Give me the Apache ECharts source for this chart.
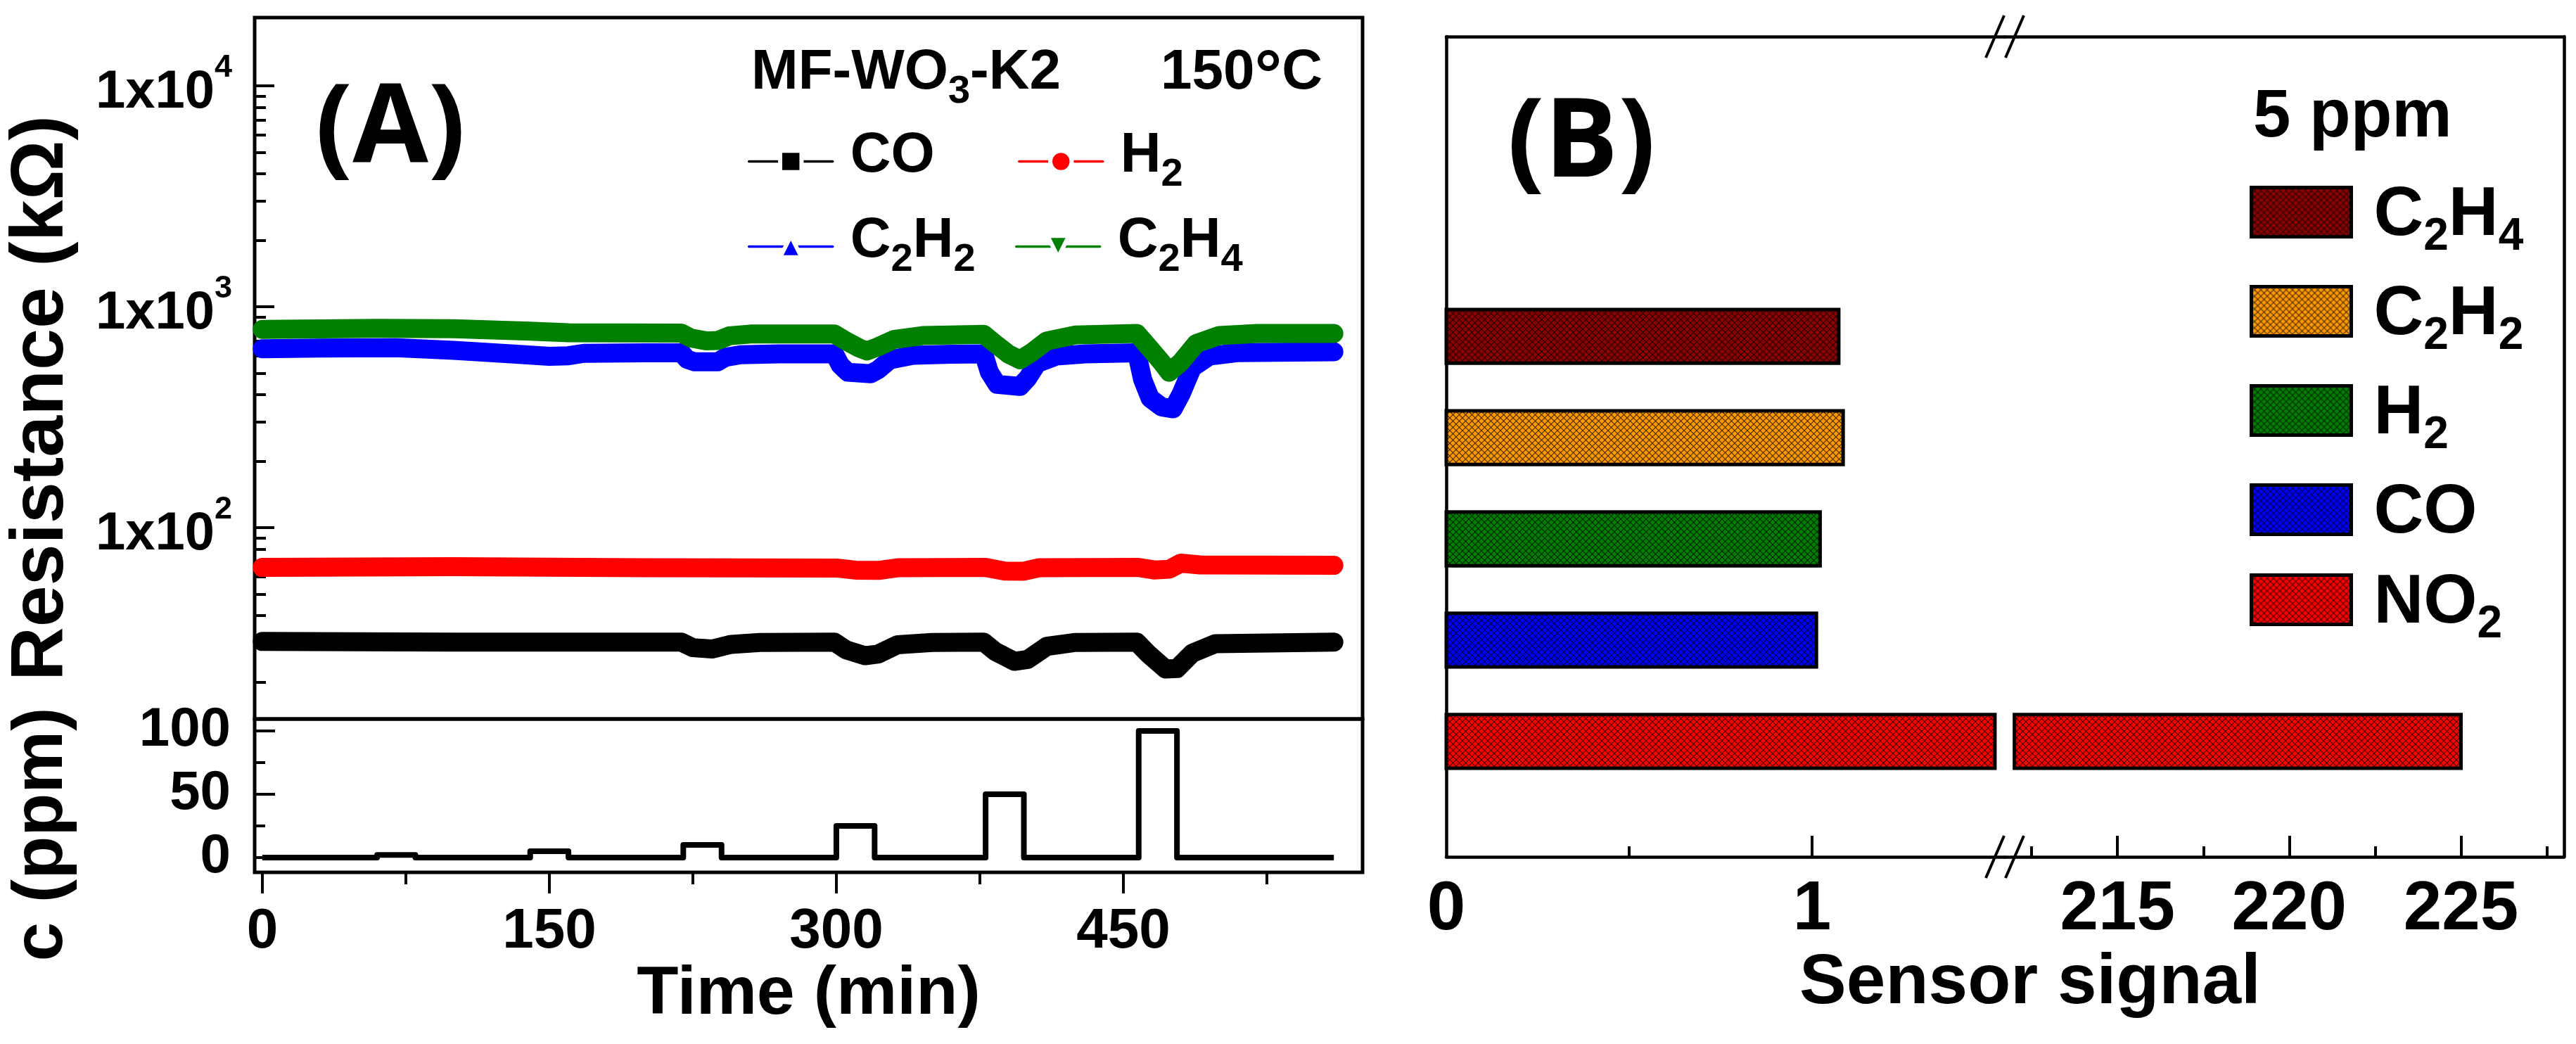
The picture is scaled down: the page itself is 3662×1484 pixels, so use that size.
<!DOCTYPE html>
<html>
<head>
<meta charset="utf-8">
<title>MF-WO3-K2 gas response</title>
<script src="https://cdn.jsdelivr.net/npm/echarts@6/dist/echarts.min.js"></script>
<style>
  html, body { margin: 0; padding: 0; background: #fff; }
  #chart { width: 3662px; height: 1484px; }
</style>
</head>
<body>
<div id="chart"></div>
<script>
// ---------- panel A : resistance (kOhm) vs time (min) ----------
const coTime = [0, 100, 219, 225, 235, 245, 260, 299, 305, 315, 322, 332, 350, 377, 383, 393, 400, 410, 425, 457, 463, 472, 478, 486, 498, 560];
const coRes = [30.5, 30.3, 30.3, 28.6, 28.2, 29.6, 30.2, 30.3, 28.0, 26.3, 26.8, 29.5, 30.2, 30.3, 27.5, 24.8, 25.3, 29.0, 30.2, 30.3, 26.8, 22.9, 23.0, 27.0, 29.8, 30.3];

const h2Time = [0, 100, 200, 300, 310, 322, 332, 378, 388, 398, 406, 458, 466, 474, 480, 490, 560];
const h2Res = [66.0, 66.5, 65.8, 65.6, 64.2, 64.0, 65.8, 66.0, 63.6, 63.5, 65.8, 66.0, 64.3, 64.8, 69.0, 67.8, 67.5];

const c2h2Time = [0, 30, 70, 100, 130, 150, 160, 168, 200, 219, 222, 226, 238, 242, 250, 270, 299, 302, 306, 318, 322, 328, 340, 360, 377, 380, 384, 396, 400, 405, 415, 430, 457, 460, 464, 470, 476, 480, 486, 495, 510, 560];
const c2h2Res = [645, 650, 652, 635, 612, 596, 600, 615, 618, 618, 578, 563, 563, 590, 606, 612, 612, 545, 505, 497, 520, 575, 603, 610, 612, 505, 445, 436, 475, 555, 598, 612, 618, 470, 385, 352, 345, 400, 530, 598, 620, 625];

const c2h4Time = [0, 60, 100, 140, 160, 219, 224, 232, 238, 244, 255, 299, 305, 312, 316, 322, 330, 345, 377, 383, 390, 396, 402, 410, 425, 457, 463, 470, 474, 480, 488, 500, 520, 560];
const c2h4Res = [790, 798, 795, 775, 762, 760, 722, 700, 703, 738, 752, 752, 700, 650, 630, 660, 710, 740, 750, 680, 610, 575, 620, 700, 745, 757, 660, 560, 505, 560, 680, 740, 757, 757];

// gas concentration steps (ppm)
const cTime = [0, 60, 60, 80, 80, 140, 140, 160, 160, 220, 220, 240, 240, 300, 300, 320, 320, 378, 378, 398, 398, 458, 458, 478, 478, 560];
const cPpm = [0, 0, 2, 2, 0, 0, 5, 5, 0, 0, 10, 10, 0, 0, 25, 25, 0, 0, 50, 50, 0, 0, 100, 100, 0, 0];

const timeTicks = [0, 150, 300, 450];
const timeMinorTicks = [75, 225, 375, 525];
const resTicks = [100, 1000, 10000];
const resMinorTicks = [20, 30, 40, 50, 60, 70, 80, 90, 200, 300, 400, 500, 600, 700, 800, 900, 2000, 3000, 4000, 5000, 6000, 7000, 8000, 9000];
const ppmTicks = [0, 50, 100];
const ppmMinorTicks = [25, 75];

// ---------- panel B : sensor signal at 5 ppm ----------
const gasB = ['NO2', 'CO', 'H2', 'C2H2', 'C2H4'];
const signalB = [225, 1.012, 1.022, 1.085, 1.073];
const legendOrderB = ['C2H4', 'C2H2', 'H2', 'CO', 'NO2'];
const signalTicksLow = [0, 1];
const signalMinorLow = [0.5];
const signalTicksHigh = [215, 220, 225];
const signalMinorHigh = [212.5, 217.5, 222.5, 227.5];

const FONT = "'Liberation Sans', Arial, sans-serif";
const gasColorB = { NO2: '#ff0000', CO: '#0000ff', H2: '#008000', C2H2: '#ff9900', C2H4: '#8b0000' };

// broken axis of panel B
const LOW_MAX = 1.527, BREAK_END = 1.5;
const HIGH_MIN = 211.72, HIGH_MAX = 228, BREAK_RESUME = 212;
const SLOT_MIN = -0.14, SLOT_MAX = 7.96, BAR_H = 0.53;

const pairs = (xs, ys) => xs.map((x, i) => [x, ys[i]]);

// letters normal, digits dropped as subscripts, plus an invisible strut so every label has the same height
function chemRich(name) {
    return name.replace(/([A-Za-z]+)/g, '{m|$1}').replace(/(\d+)/g, '{s|$1}') + '{z| }';
}

function hatch(color) {
    const n = 9;
    const c = document.createElement('canvas');
    c.width = n; c.height = n;
    const g = c.getContext('2d');
    g.fillStyle = color;
    g.fillRect(0, 0, n, n);
    g.strokeStyle = 'rgba(0,0,0,0.75)';
    g.lineWidth = 1.1;
    g.beginPath();
    g.moveTo(0, 0); g.lineTo(n, n);
    g.moveTo(n, 0); g.lineTo(0, n);
    g.stroke();
    return { image: c, repeat: 'repeat' };
}
const hatchB = {};
gasB.forEach(g => { hatchB[g] = hatch(gasColorB[g]); });

const bold = { fontWeight: 'bold', fontFamily: FONT, color: '#000' };
const richA = {
    m: Object.assign({ fontSize: 80, lineHeight: 80, verticalAlign: 'top' }, bold),
    s: Object.assign({ fontSize: 56, verticalAlign: 'top', padding: [39, 0, 0, 0] }, bold),
    d: Object.assign({ fontSize: 97, lineHeight: 95, verticalAlign: 'top' }, bold),
    z: Object.assign({ fontSize: 1, lineHeight: 95, verticalAlign: 'top' }, bold)
};
const richB = {
    m: Object.assign({ fontSize: 98, lineHeight: 98, verticalAlign: 'top' }, bold),
    s: Object.assign({ fontSize: 64, verticalAlign: 'top', padding: [47, 0, 0, 0] }, bold),
    z: Object.assign({ fontSize: 1, lineHeight: 111, verticalAlign: 'top' }, bold)
};

function resSeries(name, t, r, color, symbol) {
    return {
        name, type: 'line', xAxisIndex: 0, yAxisIndex: 0,
        data: pairs(t, r), showSymbol: false, symbol, symbolSize: 22,
        lineStyle: { color, width: 27, join: 'round', cap: 'round' },
        itemStyle: { color }, silent: true
    };
}

function legendA(name, left, top) {
    return {
        data: [name], left, top, padding: 0,
        itemWidth: 119, itemHeight: 38, selectedMode: false,
        lineStyle: { width: 3.5 },
        itemStyle: { borderColor: '#fff', borderWidth: 6 },
        formatter: chemRich,
        textStyle: { padding: [0, 0, 0, 20], rich: richA }
    };
}

function barPiece(lo, hi, fill) {
    return function (params, api) {
        const v = api.value(0), slot = api.value(1);
        const x1 = Math.min(v, hi);
        if (x1 <= lo) return null;
        const p0 = api.coord([lo, slot]);
        const p1 = api.coord([x1, slot]);
        const h = api.size([0, BAR_H])[1];
        return {
            type: 'rect',
            shape: { x: p0[0], y: p0[1] - h / 2, width: p1[0] - p0[0], height: h },
            style: { fill, stroke: '#000', lineWidth: 5 }
        };
    };
}

const barSeries = [];
gasB.forEach((g, i) => {
    const data = [[signalB[i], i + 1]];
    barSeries.push({ name: 'B-' + g, type: 'custom', xAxisIndex: 3, yAxisIndex: 4, data,
        itemStyle: { color: hatchB[g] }, renderItem: barPiece(0, BREAK_END, hatchB[g]), silent: true });
    barSeries.push({ name: 'B-' + g, type: 'custom', xAxisIndex: 6, yAxisIndex: 5, data,
        itemStyle: { color: hatchB[g] }, renderItem: barPiece(BREAK_RESUME, Infinity, hatchB[g]), silent: true });
});

const lineBlack = { show: true, onZero: false, lineStyle: { color: '#000', width: 4.5 } };
const noLine = { show: false, onZero: false };
const tickFont = (size) => Object.assign({ fontSize: size }, bold);
const offAxis = { axisLine: noLine, axisTick: { show: false }, axisLabel: { show: false }, splitLine: { show: false } };

const option = {
    animation: false,
    backgroundColor: '#fff',
    grid: [
        { left: 362, top: 25, width: 1575, height: 997, show: true, borderColor: '#000', borderWidth: 5, backgroundColor: 'transparent' },
        { left: 362, top: 1022, width: 1575, height: 218, show: true, borderColor: '#000', borderWidth: 5, backgroundColor: 'transparent' },
        { left: 2056, top: 52, width: 794, height: 1166 },
        { left: 2850, top: 52, width: 795, height: 1166 }
    ],
    xAxis: [
        { gridIndex: 0, type: 'value', min: -4, max: 575, position: 'bottom', show: false },
        { gridIndex: 1, type: 'value', min: -4, max: 575, position: 'bottom', axisLine: noLine,
          axisTick: { customValues: timeTicks, length: 30, lineStyle: { color: '#000', width: 4 } },
          axisLabel: Object.assign({ customValues: timeTicks, margin: 45 }, tickFont(80)),
          splitLine: { show: false },
          name: 'Time (min)', nameLocation: 'middle', nameGap: 122,
          nameTextStyle: tickFont(97) },
        { gridIndex: 1, type: 'value', min: -4, max: 575, position: 'bottom', axisLine: noLine,
          axisTick: { customValues: timeMinorTicks, length: 17, lineStyle: { color: '#000', width: 4 } },
          axisLabel: { show: false }, splitLine: { show: false } },
        // panel B, low segment
        { gridIndex: 2, type: 'value', min: 0, max: LOW_MAX, position: 'bottom', axisLine: lineBlack,
          axisTick: { customValues: [1], inside: true, length: 30, lineStyle: { color: '#000', width: 4 } },
          axisLabel: Object.assign({ customValues: signalTicksLow, margin: 27 }, tickFont(98)),
          splitLine: { show: false } },
        { gridIndex: 2, type: 'value', min: 0, max: LOW_MAX, position: 'bottom', axisLine: noLine,
          axisTick: { customValues: signalMinorLow, inside: true, length: 15, lineStyle: { color: '#000', width: 4 } },
          axisLabel: { show: false }, splitLine: { show: false } },
        Object.assign({ gridIndex: 2, type: 'value', min: 0, max: LOW_MAX, position: 'top' }, offAxis, { axisLine: lineBlack }),
        // panel B, high segment
        { gridIndex: 3, type: 'value', min: HIGH_MIN, max: HIGH_MAX, position: 'bottom', axisLine: lineBlack,
          axisTick: { customValues: signalTicksHigh, inside: true, length: 30, lineStyle: { color: '#000', width: 4 } },
          axisLabel: Object.assign({ customValues: signalTicksHigh, margin: 27 }, tickFont(98)),
          splitLine: { show: false } },
        { gridIndex: 3, type: 'value', min: HIGH_MIN, max: HIGH_MAX, position: 'bottom', axisLine: noLine,
          axisTick: { customValues: signalMinorHigh, inside: true, length: 15, lineStyle: { color: '#000', width: 4 } },
          axisLabel: { show: false }, splitLine: { show: false } },
        Object.assign({ gridIndex: 3, type: 'value', min: HIGH_MIN, max: HIGH_MAX, position: 'top' }, offAxis, { axisLine: lineBlack })
    ],
    yAxis: [
        { gridIndex: 0, type: 'log', logBase: 10, min: 13.6, max: 20370, position: 'left', axisLine: noLine,
          axisTick: { customValues: resTicks, inside: true, length: 28, lineStyle: { color: '#000', width: 4 } },
          axisLabel: {
              customValues: resTicks, margin: 32,
              formatter: v => '{b|1x10}{sup|' + Math.round(Math.log10(v)) + '}',
              rich: {
                  b: Object.assign({ fontSize: 76, lineHeight: 96, verticalAlign: 'bottom' }, bold),
                  sup: Object.assign({ fontSize: 45, lineHeight: 45, verticalAlign: 'top' }, bold)
              }
          },
          splitLine: { show: false } },
        { gridIndex: 0, type: 'log', logBase: 10, min: 13.6, max: 20370, position: 'left', axisLine: noLine,
          axisTick: { customValues: resMinorTicks, inside: true, length: 16, lineStyle: { color: '#000', width: 4 } },
          axisLabel: { show: false }, splitLine: { show: false } },
        { gridIndex: 1, type: 'value', min: -11.7, max: 109.4, position: 'left', axisLine: noLine,
          axisTick: { customValues: ppmTicks, inside: true, length: 29, lineStyle: { color: '#000', width: 4 } },
          axisLabel: Object.assign({ customValues: ppmTicks, margin: 34 }, tickFont(78)),
          splitLine: { show: false } },
        { gridIndex: 1, type: 'value', min: -11.7, max: 109.4, position: 'left', axisLine: noLine,
          axisTick: { customValues: ppmMinorTicks, inside: true, length: 15, lineStyle: { color: '#000', width: 4 } },
          axisLabel: { show: false }, splitLine: { show: false } },
        Object.assign({ gridIndex: 2, type: 'value', min: SLOT_MIN, max: SLOT_MAX, position: 'left' }, offAxis, { axisLine: lineBlack }),
        Object.assign({ gridIndex: 3, type: 'value', min: SLOT_MIN, max: SLOT_MAX, position: 'right' }, offAxis, { axisLine: lineBlack })
    ],
    legend: [
        legendA('CO', 1063, 182),
        legendA('H2', 1447, 182),
        legendA('C2H2', 1063, 303),
        legendA('C2H4', 1443, 303),
        { data: legendOrderB.map(g => ({ name: 'B-' + g, icon: 'rect',
              itemStyle: { color: hatchB[g], borderColor: '#000', borderWidth: 5 } })),
          left: 3198, top: 258, orient: 'vertical', padding: 0,
          itemWidth: 142, itemHeight: 70, itemGap: 30, selectedMode: false,
          formatter: name => chemRich(name.slice(2)),
          textStyle: { padding: [24, 0, 0, 27], rich: richB } }
    ],
    series: [
        resSeries('CO', coTime, coRes, '#000000', 'rect'),
        resSeries('H2', h2Time, h2Res, '#ff0000', 'circle'),
        resSeries('C2H2', c2h2Time, c2h2Res, '#0000ff', 'triangle'),
        resSeries('C2H4', c2h4Time, c2h4Res, '#008000', 'path://M0,0L10,0L5,9Z'),
        { name: 'conc', type: 'line', xAxisIndex: 1, yAxisIndex: 2, data: pairs(cTime, cPpm),
          showSymbol: false, symbol: 'none', silent: true,
          lineStyle: { color: '#000', width: 8, join: 'round' } }
    ].concat(barSeries),
    graphic: {
        elements: [
            { id: 'tagA', type: 'text', x: 555, y: 187,
              style: { text: '(A)', fontSize: 156, fontWeight: 'bold', fontFamily: "'Open Sans', sans-serif", fill: '#000',
                       align: 'center', verticalAlign: 'middle', textAlign: 'center', textVerticalAlign: 'middle' } },
            { id: 'tagB', type: 'text', x: 2248, y: 207,
              style: { text: '(B)', fontSize: 156, fontWeight: 'bold', fontFamily: "'Open Sans', sans-serif", fill: '#000',
                       align: 'center', verticalAlign: 'middle', textAlign: 'center', textVerticalAlign: 'middle' } },
            { id: 'sample', type: 'text', x: 1068, y: 111,
              style: { text: '{m|MF-WO}{s|3}{m|-K2}{z| }', rich: richA, fill: '#000',
                       align: 'left', verticalAlign: 'middle', textAlign: 'left', textVerticalAlign: 'middle' } },
            { id: 'temp', type: 'text', x: 1650, y: 111,
              style: { text: '{m|150}{d|°}{m|C}{z| }', rich: richA, fill: '#000',
                       align: 'left', verticalAlign: 'middle', textAlign: 'left', textVerticalAlign: 'middle' } },
            { id: 'dose', type: 'text', x: 3203, y: 168,
              style: { text: '5 ppm', fontSize: 96, fontWeight: 'bold', fontFamily: FONT, fill: '#000',
                       align: 'left', verticalAlign: 'middle', textAlign: 'left', textVerticalAlign: 'middle' } },
            { id: 'xNameB', type: 'text', x: 2886, y: 1398,
              style: { text: 'Sensor signal', fontSize: 100, fontWeight: 'bold', fontFamily: FONT, fill: '#000',
                       align: 'center', verticalAlign: 'middle', textAlign: 'center', textVerticalAlign: 'middle' } },
            { id: 'yNameA', type: 'text', x: 60, y: 566, rotation: Math.PI / 2,
              style: { text: 'Resistance (kΩ)', fontSize: 106, fontWeight: 'bold', fontFamily: FONT, fill: '#000',
                       align: 'center', verticalAlign: 'middle', textAlign: 'center', textVerticalAlign: 'middle' } },
            { id: 'yNameC', type: 'text', x: 60, y: 1186, rotation: Math.PI / 2,
              style: { text: 'c (ppm)', fontSize: 100, fontWeight: 'bold', fontFamily: FONT, fill: '#000',
                       align: 'center', verticalAlign: 'middle', textAlign: 'center', textVerticalAlign: 'middle' } }
        ]
    }
};

const chart = echarts.init(document.getElementById('chart'));
chart.setOption(option);

// "//" break marks on the top and bottom lines of panel B
const bTop = chart.convertToPixel({ xAxisIndex: 3, yAxisIndex: 4 }, [LOW_MAX, SLOT_MAX]);
const bBottom = chart.convertToPixel({ xAxisIndex: 3, yAxisIndex: 4 }, [LOW_MAX, SLOT_MIN]);
const marks = [];
[bTop[1], bBottom[1]].forEach((y, k) => {
    [-14, 14].forEach((dx, j) => {
        const cx = bTop[0] + dx;
        marks.push({ id: 'brk' + k + j, type: 'line', z: 100,
            shape: { x1: cx - 13, y1: y + 30, x2: cx + 13, y2: y - 30 },
            style: { stroke: '#000', lineWidth: 4 } });
    });
});
chart.setOption({ graphic: { elements: marks } });

window.addEventListener('resize', () => chart.resize());
</script>
</body>
</html>
